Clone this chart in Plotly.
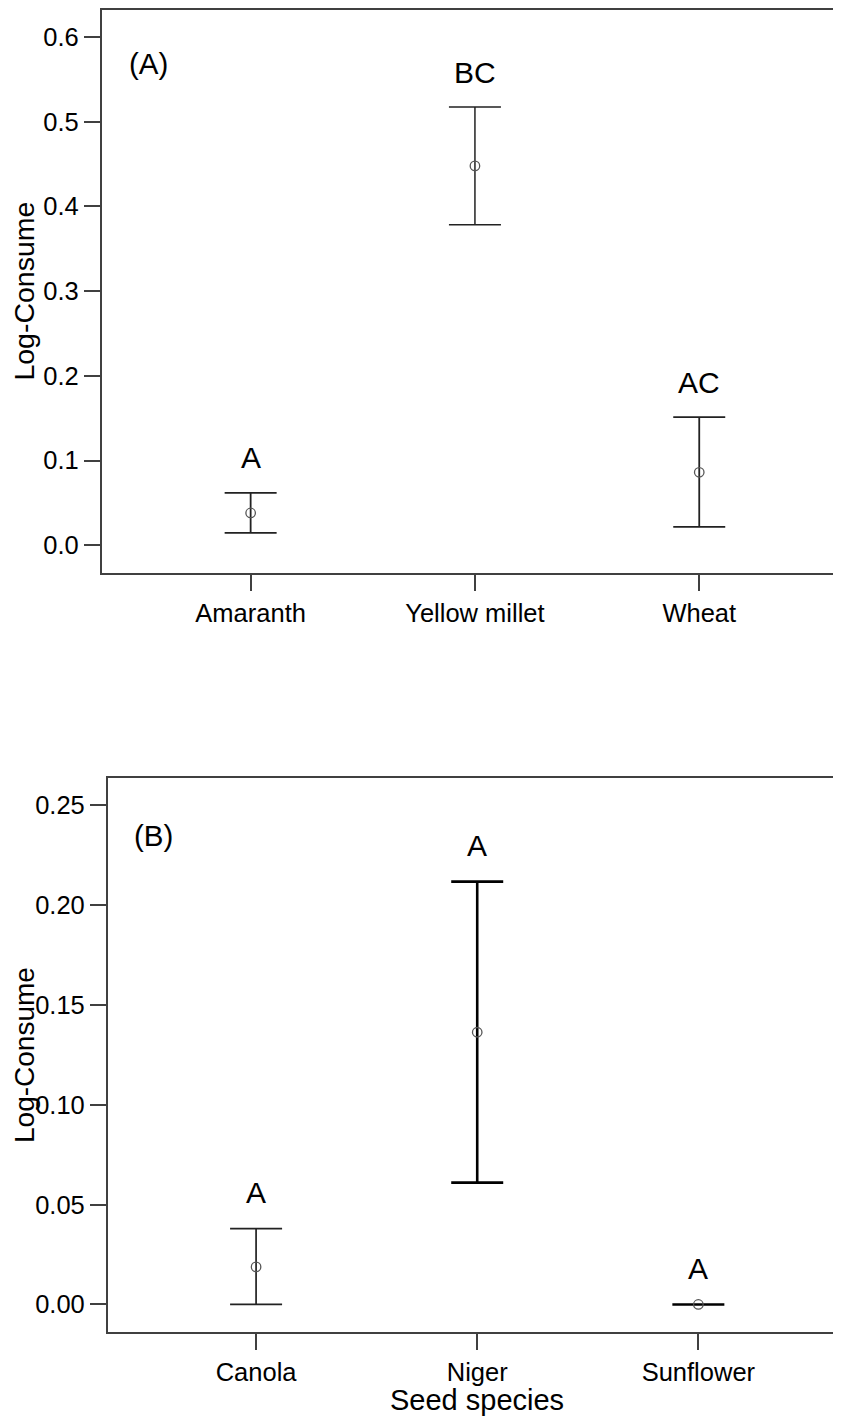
import plotly.graph_objects as go

# ---- Data ----
cats_a = ["Amaranth", "Yellow millet", "Wheat"]
mean_a = [0.0381, 0.4478, 0.0861]
upper_a = [0.0618, 0.5173, 0.1513]
lower_a = [0.0145, 0.3782, 0.0216]
letters_a = ["A", "BC", "AC"]

cats_b = ["Canola", "Niger", "Sunflower"]
mean_b = [0.0188, 0.1363, 0.0]
upper_b = [0.0380, 0.2117, 0.0]
lower_b = [0.0, 0.0610, 0.0]
letters_b = ["A", "A", "A"]

yticks_a = [0.0, 0.1, 0.2, 0.3, 0.4, 0.5, 0.6]
yticktext_a = ["0.0", "0.1", "0.2", "0.3", "0.4", "0.5", "0.6"]
yticks_b = [0.0, 0.05, 0.10, 0.15, 0.20, 0.25]
yticktext_b = ["0.00", "0.05", "0.10", "0.15", "0.20", "0.25"]

# ---- Styles ----
PAGE_MARGIN = 8          # default body margin of the html page
W, H = 841 - PAGE_MARGIN, 1424 - 2 * PAGE_MARGIN
FONT = "Liberation Sans, Arial, sans-serif"
AXC = "#404040"
bar_thick_a = [1.8, 1.5, 1.8]
bar_thick_b = [1.7, 2.6, 2.6]
bar_color_a = ["#222222", "#222222", "#222222"]
bar_color_b = ["#222222", "#000000", "#000000"]

fig = go.Figure()

def add_points(cats, means, ups, lows, thick, colors, xa, ya):
    for i, c in enumerate(cats):
        fig.add_trace(go.Scatter(
            x=[c], y=[means[i]], mode="markers",
            xaxis=xa, yaxis=ya, showlegend=False,
            marker=dict(symbol="circle-open", size=9.5, color="#555555",
                        line=dict(width=1.3, color="#555555")),
            error_y=dict(type="data", symmetric=False,
                         array=[ups[i] - means[i]],
                         arrayminus=[means[i] - lows[i]],
                         color=colors[i], thickness=thick[i], width=26),
        ))

add_points(cats_a, mean_a, upper_a, lower_a, bar_thick_a, bar_color_a, "x", "y")
add_points(cats_b, mean_b, upper_b, lower_b, bar_thick_b, bar_color_b, "x2", "y2")

ann = []
for c, u, t in zip(cats_a, upper_a, letters_a):
    ann.append(dict(x=c, y=u, xref="x", yref="y", text=t, showarrow=False,
                    xanchor="center", yanchor="middle",
                    yshift=35, font=dict(size=30, color="black", family=FONT)))
for c, u, t in zip(cats_b, upper_b, letters_b):
    ann.append(dict(x=c, y=u, xref="x2", yref="y2", text=t, showarrow=False,
                    xanchor="center", yanchor="middle",
                    yshift=36, font=dict(size=30, color="black", family=FONT)))

def px_x(px):
    return (px - PAGE_MARGIN) / W

def px_y(py):
    return 1 - (py - PAGE_MARGIN) / H

def txt(x, y, s, angle=0, size=29.5):
    return dict(x=px_x(x), y=px_y(y), xref="paper", yref="paper", text=s,
                textangle=angle, showarrow=False, xanchor="center", yanchor="middle",
                font=dict(size=size, color="black", family=FONT))

ann += [
    txt(148.5, 62, "(A)"),
    txt(153, 835, "(B)"),
    txt(24, 290, "Log-Consume", -90, size=28.5),
    txt(24, 1054.5, "Log-Consume", -90, size=28),
    txt(477, 1400, "Seed species", size=29),
]

xcommon = dict(type="category", showline=True, linecolor=AXC, linewidth=1.6,
               mirror=True, ticks="outside", ticklen=16, tickwidth=1.6, tickcolor=AXC,
               showgrid=False, zeroline=False,
               tickfont=dict(size=25.5, color="black", family=FONT))
ycommon = dict(showline=True, linecolor=AXC, linewidth=1.6, mirror=False,
               ticks="outside", ticklen=16, tickwidth=1.6, tickcolor=AXC,
               showgrid=False, zeroline=False,
               tickfont=dict(size=25.5, color="black", family=FONT))

fig.update_layout(
    width=W, height=H,
    margin=dict(l=0, r=0, t=0, b=0),
    paper_bgcolor="white", plot_bgcolor="white",
    showlegend=False,
    xaxis=dict(xcommon, domain=[px_x(101.7), 1], range=[-0.664, 2.632],
               categoryorder="array", categoryarray=cats_a, anchor="y"),
    yaxis=dict(ycommon, domain=[px_y(572), px_y(8)], range=[-0.033, 0.6318],
               tickvals=yticks_a, ticktext=yticktext_a, anchor="x"),
    xaxis2=dict(xcommon, domain=[px_x(107.7), 1], range=[-0.671, 2.645],
                categoryorder="array", categoryarray=cats_b, anchor="y2"),
    yaxis2=dict(ycommon, domain=[px_y(1332), px_y(777.3)], range=[-0.01385, 0.2635],
                tickvals=yticks_b, ticktext=yticktext_b, anchor="x2"),
    annotations=ann,
)

fig.write_html("out.html")
